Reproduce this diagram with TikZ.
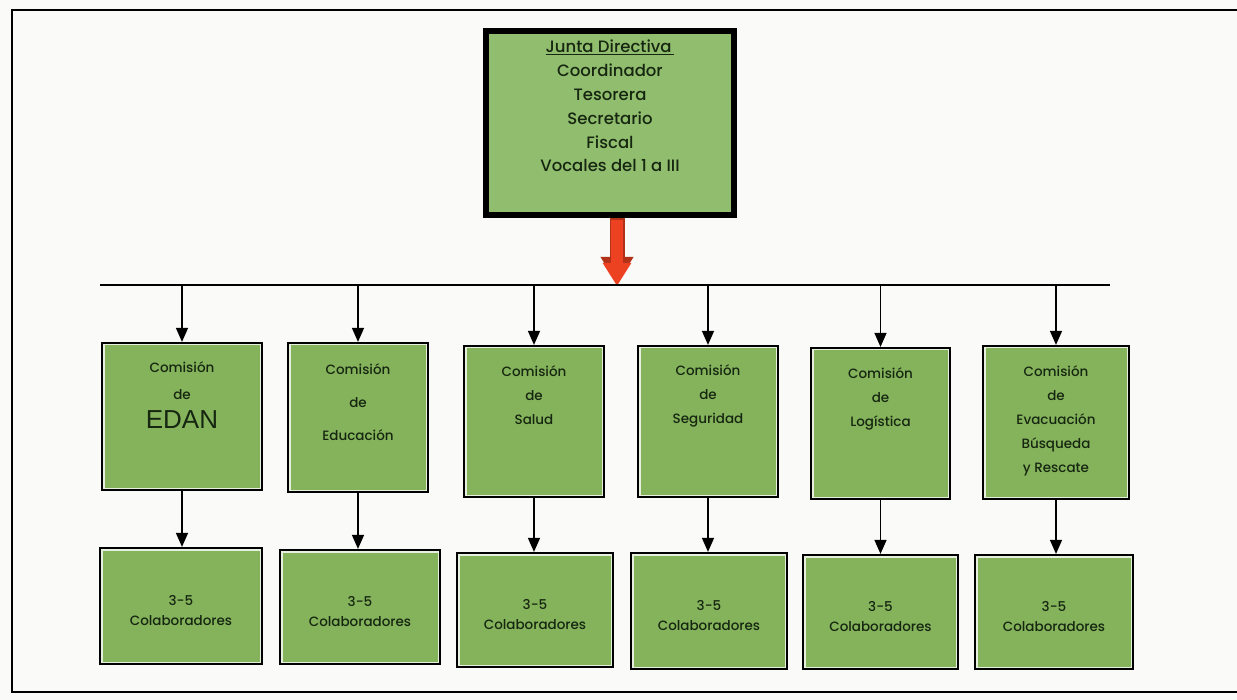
\documentclass[tikz,border=0pt]{standalone}
\usepackage{fontspec}
\setmainfont{Poppins Medium}
\newfontfamily\edanfont{Liberation Sans}
\usetikzlibrary{arrows.meta,positioning}
\definecolor{paper}{RGB}{250,250,248}
\definecolor{boxgreen}{RGB}{132,179,92}
\definecolor{topgreen}{RGB}{145,190,110}
\definecolor{inkgreen}{RGB}{22,38,16}
\definecolor{arrowred}{RGB}{236,66,34}
\begin{document}
\begin{tikzpicture}[x=1pt,y=-1pt,
  greenbox/.style={draw=black, line width=2.2pt, fill=boxgreen, inner sep=0pt,
    path picture={\draw[white!80!boxgreen, line width=5pt]
      (path picture bounding box.south west) rectangle (path picture bounding box.north east);}},
  comtext/.style={text=inkgreen, font=\fontsize{13.5}{24}\selectfont, align=center, inner sep=0pt},
  colab/.style={greenbox, comtext, font=\fontsize{13.5}{20}\selectfont},
  flowarrow/.style={-{Triangle[width=12pt,length=14pt]}, line width=1.4pt}]
\useasboundingbox (0,0) rectangle (1237,700);
\clip (0,0) rectangle (1237,700);
\fill[paper] (0,0) rectangle (1237,700);
\draw[line width=2.5pt] (1300,10) -- (12,10) -- (12,692) -- (1300,692);

% junta directiva
\node[draw=black, line width=6pt, fill=topgreen, minimum width=248pt, minimum height=184pt] (top) at (610,123) {};
\node[comtext, font=\fontsize{16.5}{23.8}\selectfont, below=12pt of top.north] (toptext)
  {\underline{Junta Directiva\,}\\Coordinador\\Tesorera\\Secretario\\Fiscal\\Vocales del 1 a III};

% barra
\coordinate (busl) at (100,285);
\coordinate (busr) at (1110,285);
\coordinate (redtop) at ([xshift=7pt]top.south);
\draw[arrowred!75!black, line width=15pt, -{Triangle[width=31pt,length=27pt]}] (redtop) -- ([yshift=1pt]redtop |- busl);
\draw[arrowred, line width=12pt, -{Triangle[width=27pt,length=23pt]}] ([yshift=-2pt]redtop) -- ([yshift=-1pt]redtop |- busl);
\draw[line width=2.5pt] (busl) -- (busr);

% comisiones
\node[greenbox, minimum width=160pt, minimum height=147pt] (c1) at (182,416.5) {};
\node[greenbox, minimum width=140pt, minimum height=149pt] (c2) at (358,417.5) {};
\node[greenbox, minimum width=140pt, minimum height=151pt] (c3) at (534,421.5) {};
\node[greenbox, minimum width=140pt, minimum height=151pt] (c4) at (708,421.5) {};
\node[greenbox, minimum width=139pt, minimum height=151pt] (c5) at (880.5,423.5) {};
\node[greenbox, minimum width=146pt, minimum height=153pt] (c6) at (1056,422.5) {};

\node[comtext, font=\fontsize{13.5}{27}\selectfont, below=20pt of c1.north] (t1) {Comisión\\de\\[2pt]{\edanfont\fontsize{26}{27}\selectfont EDAN}};
\node[comtext, font=\fontsize{13.5}{33}\selectfont, below=22pt of c2.north] (t2) {Comisión\\de\\Educación};
\node[comtext, below=21pt of c3.north] (t3) {Comisión\\de\\Salud};
\node[comtext, below=20pt of c4.north] (t4) {Comisión\\de\\Seguridad};
\node[comtext, below=21pt of c5.north] (t5) {Comisión\\de\\Logística};
\node[comtext, below=21pt of c6.north] (t6) {Comisión\\de\\Evacuación\\Búsqueda\\y Rescate};

% colaboradores
\node[colab, minimum width=162pt, minimum height=116pt] (k1) at (181,606) {\rule{0pt}{20pt}3-5\\Colaboradores};
\node[colab, minimum width=160pt, minimum height=114pt] (k2) at (360,607) {\rule{0pt}{20pt}3-5\\Colaboradores};
\node[colab, minimum width=156pt, minimum height=114pt] (k3) at (535,610) {\rule{0pt}{20pt}3-5\\Colaboradores};
\node[colab, minimum width=156pt, minimum height=116pt] (k4) at (709,611) {\rule{0pt}{20pt}3-5\\Colaboradores};
\node[colab, minimum width=155pt, minimum height=114pt] (k5) at (880.5,612) {\rule{0pt}{20pt}3-5\\Colaboradores};
\node[colab, minimum width=158pt, minimum height=114pt] (k6) at (1054,612) {\rule{0pt}{20pt}3-5\\Colaboradores};

\foreach \n in {1,...,6} {
  \draw[flowarrow] (c\n.north |- busl) -- (c\n.north);
  \draw[flowarrow] (c\n.south) -- (c\n.south |- k\n.north);
}
\end{tikzpicture}
\end{document}
